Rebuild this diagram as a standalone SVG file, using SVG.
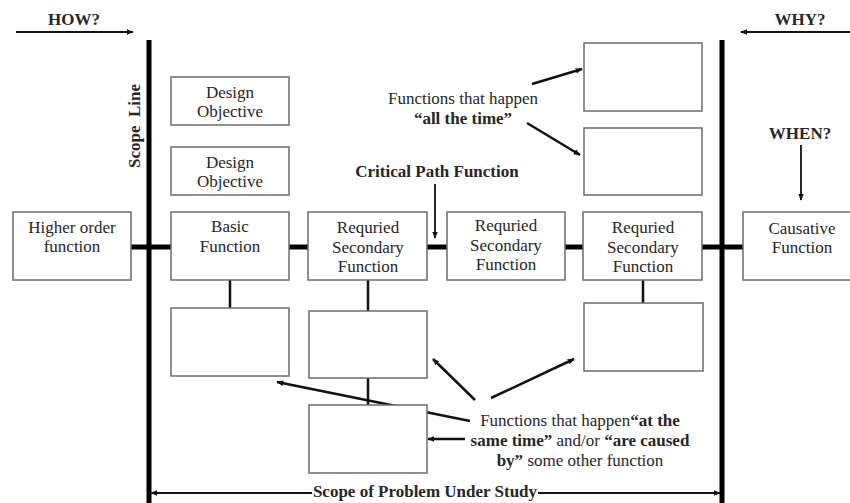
<svg xmlns="http://www.w3.org/2000/svg" width="850" height="503" viewBox="0 0 850 503">
<defs>
<marker id="ah" viewBox="0 0 10 10" refX="9" refY="5" markerWidth="7" markerHeight="7" markerUnits="userSpaceOnUse" orient="auto"><path d="M0,1 L10,5 L0,9 z" fill="#111"/></marker>
<style>
.box{fill:#fff;stroke:#6b6b6b;stroke-width:1.5}
.t{font-family:"Liberation Serif","Times New Roman",serif;font-size:17px;fill:#262626;text-anchor:middle}
.b{font-weight:bold}
.thick{stroke:#000;stroke-width:5;fill:none}
.thin{stroke:#111;stroke-width:2.5;fill:none}
.arr{stroke:#111;stroke-width:2.5;fill:none;marker-end:url(#ah)}
.sarr{stroke:#111;stroke-width:1.8;fill:none;marker-end:url(#ah)}
</style>
</defs>
<rect width="850" height="503" fill="#fff"/>

<g id="connectors">
<line class="thick" x1="149" y1="40" x2="149" y2="503"/>
<line class="thick" x1="722" y1="40" x2="722" y2="503"/>
<line class="thick" x1="131" y1="247" x2="171" y2="247"/>
<line class="thick" x1="289" y1="247" x2="308" y2="247"/>
<line class="thick" x1="427" y1="247" x2="447" y2="247"/>
<line class="thick" x1="565" y1="247" x2="583" y2="247"/>
<line class="thick" x1="702" y1="247" x2="743" y2="247"/>
<line class="thin" x1="230" y1="280" x2="230" y2="308"/>
<line class="thin" x1="368" y1="280" x2="368" y2="311"/>
<line class="thin" x1="368" y1="378" x2="368" y2="405"/>
<line class="thin" x1="643" y1="280" x2="643" y2="303"/>
<line class="sarr" x1="16" y1="32" x2="133" y2="32"/>
<line class="sarr" x1="850" y1="32" x2="741" y2="32"/>
<line class="sarr" x1="801" y1="145" x2="801" y2="200"/>
<line class="sarr" x1="435" y1="184" x2="435" y2="238"/>
<line class="arr" x1="532" y1="84" x2="582" y2="69"/>
<line class="arr" x1="527" y1="123" x2="580" y2="155"/>
<line class="arr" x1="475" y1="400" x2="433" y2="359"/>
<line class="arr" x1="491" y1="398" x2="574" y2="359"/>
<line class="arr" x1="470" y1="421" x2="277" y2="382"/>
<line class="arr" x1="465" y1="439" x2="428" y2="439"/>
<line class="sarr" x1="312" y1="493" x2="151" y2="493"/>
<line class="sarr" x1="538" y1="493" x2="720" y2="493"/>
</g>

<g id="design1"><rect class="box" x="171" y="77" width="118" height="48"/><text class="t" x="230" y="98">Design</text><text class="t" x="230" y="117">Objective</text></g>
<g id="design2"><rect class="box" x="171" y="147" width="118" height="48"/><text class="t" x="230" y="168">Design</text><text class="t" x="230" y="187">Objective</text></g>
<g id="higher"><rect class="box" x="13" y="212" width="118" height="68"/><text class="t" x="72" y="233">Higher order</text><text class="t" x="72" y="252">function</text></g>
<g id="basic"><rect class="box" x="171" y="212" width="118" height="68"/><text class="t" x="230" y="232">Basic</text><text class="t" x="230" y="252">Function</text></g>
<g id="req1"><rect class="box" x="308" y="212" width="119" height="68"/><text class="t" x="368" y="233">Requried</text><text class="t" x="368" y="253">Secondary</text><text class="t" x="368" y="272">Function</text></g>
<g id="req2"><rect class="box" x="447" y="212" width="118" height="68"/><text class="t" x="506" y="231">Requried</text><text class="t" x="506" y="251">Secondary</text><text class="t" x="506" y="270">Function</text></g>
<g id="req3"><rect class="box" x="583" y="212" width="119" height="68"/><text class="t" x="643" y="233">Requried</text><text class="t" x="643" y="253">Secondary</text><text class="t" x="643" y="272">Function</text></g>
<g id="causative"><rect class="box" x="743" y="212" width="110" height="68"/><text class="t" x="802" y="234">Causative</text><text class="t" x="802" y="253">Function</text></g>
<g id="top1"><rect class="box" x="584" y="43" width="118" height="68"/></g>
<g id="top2"><rect class="box" x="584" y="128" width="118" height="67"/></g>
<g id="low1"><rect class="box" x="171" y="308" width="118" height="68"/></g>
<g id="low2"><rect class="box" x="309" y="311" width="118" height="67"/></g>
<g id="low3"><rect class="box" x="309" y="405" width="118" height="68"/></g>
<g id="low4"><rect class="box" x="584" y="303" width="119" height="68"/></g>

<g id="labels">
<text class="t b" x="74" y="25">HOW?</text>
<text class="t b" x="800" y="25">WHY?</text>
<text class="t b" x="800" y="139">WHEN?</text>
<text class="t b" x="437" y="177">Critical Path Function</text>
<text class="t b" transform="translate(140,126) rotate(-90)" xml:space="preserve">Scope  Line</text>
<text class="t" x="463" y="104">Functions that happen</text>
<text class="t b" x="463" y="124">“all the time”</text>
<text class="t" x="580" y="426">Functions that happen<tspan class="b">“at the</tspan></text>
<text class="t" x="580" y="446"><tspan class="b">same time”</tspan> and/or <tspan class="b">“are caused</tspan></text>
<text class="t" x="580" y="466"><tspan class="b">by”</tspan> some other function</text>
<text class="t b" x="425" y="497">Scope of Problem Under Study</text>
</g>
</svg>
